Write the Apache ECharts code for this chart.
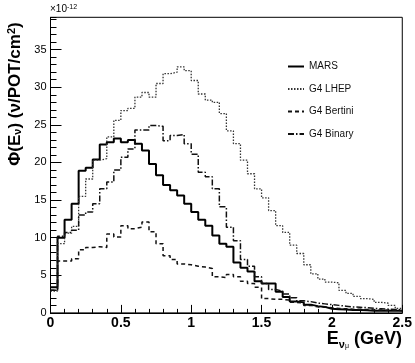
<!DOCTYPE html>
<html lang="en">
<head>
    <meta charset="utf-8">
    <title>Flux</title>
    <script src="https://cdn.jsdelivr.net/npm/echarts@6/dist/echarts.min.js"></script>
    <style>
        html, body { margin: 0; padding: 0; background: #fff; }
        #main { width: 415px; height: 363px; }
    </style>
</head>
<body>
<div id="main"></div>
<script type="text/javascript">
    // histogram: 50 bins of 0.05 GeV, values in units of 1e-12
    var binWidth = 0.05;
    var seriesNames = ['MARS', 'G4 LHEP', 'G4 Bertini', 'G4 Binary'];

    var mars = [3.4, 10.0, 12.4, 14.5, 18.9, 19.3, 20.4, 22.4, 22.7, 23.2,
        22.7, 23.0, 22.5, 21.6, 19.8, 18.3, 17.0, 16.3, 15.6, 14.5,
        13.4, 12.4, 11.6, 10.3, 9.2, 8.8, 6.7, 6.0, 5.5, 4.2,
        3.9, 3.9, 2.8, 2.1, 1.5, 1.4, 1.1, 0.9, 0.8, 0.55,
        0.5, 0.45, 0.4, 0.4, 0.35, 0.3, 0.3, 0.3, 0.3, 0.3];
    var lhep = [2.9, 9.2, 10.6, 11.5, 15.5, 17.8, 20.3, 20.5, 23.4, 25.6,
        26.9, 27.2, 28.7, 29.3, 28.7, 30.5, 31.8, 32.0, 32.7, 32.2,
        30.9, 29.1, 28.3, 28.0, 26.5, 24.2, 22.5, 20.3, 18.5, 16.5,
        15.3, 13.6, 11.6, 10.7, 9.0, 7.9, 6.4, 5.2, 4.5, 4.1,
        4.0, 3.0, 2.6, 2.2, 1.9, 1.8, 1.4, 1.3, 1.0, 0.6];
    var bertini = [3.0, 6.9, 6.9, 7.2, 8.4, 8.7, 8.8, 8.7, 10.5, 10.1,
        11.6, 11.2, 11.4, 12.1, 10.8, 9.2, 7.6, 7.1, 6.5, 6.4,
        6.2, 6.1, 5.9, 4.8, 4.7, 5.1, 4.8, 4.2, 3.9, 3.4,
        1.9, 1.8, 1.8, 1.7, 1.4, 1.3, 1.0, 0.8, 0.8, 0.7,
        0.6, 0.55, 0.5, 0.5, 0.45, 0.4, 0.4, 0.35, 0.35, 0.3];
    var binary = [3.0, 10.2, 10.7, 11.0, 13.0, 13.4, 14.5, 16.5, 17.4, 19.0,
        20.7, 21.8, 24.3, 24.3, 24.9, 24.8, 22.9, 23.6, 23.7, 22.5,
        21.1, 18.7, 18.1, 16.5, 14.1, 11.4, 9.6, 7.1, 6.2, 4.8,
        3.9, 3.1, 2.9, 2.5, 2.0, 1.6, 1.5, 1.3, 1.2, 1.1,
        1.0, 0.9, 0.8, 0.75, 0.7, 0.6, 0.55, 0.5, 0.45, 0.4];

    var xTicks = [0, 0.5, 1, 1.5, 2, 2.5];
    var yTicks = [0, 5, 10, 15, 20, 25, 30, 35];

    var font = 'Liberation Sans, Arial, sans-serif';

    // bin low edges + closing point so the last bin is drawn
    function steps(values) {
        var pts = values.map(function (v, i) {
            return [+(i * binWidth).toFixed(3), v];
        });
        pts.push([+(values.length * binWidth).toFixed(3), values[values.length - 1]]);
        return pts;
    }

    function hist(name, values, width, type, color) {
        return {
            name: name,
            type: 'line',
            step: 'end',
            symbol: 'none',
            xAxisIndex: 0,
            yAxisIndex: 0,
            lineStyle: { color: color, width: width, type: type },
            itemStyle: { color: color },
            data: steps(values)
        };
    }

    var myChart = echarts.init(document.getElementById('main'));

    var option = {
        animation: false,
        backgroundColor: '#fff',
        grid: {
            left: 50.5, right: 12.5, top: 17.3, bottom: 50.1,
            show: true, borderColor: '#000', borderWidth: 1,
            backgroundColor: 'transparent'
        },
        legend: {
            orient: 'vertical',
            left: 287, top: 60.5, padding: 0,
            itemWidth: 16, itemHeight: 12, itemGap: 10.5,
            data: seriesNames,
            itemStyle: { color: 'transparent', borderColor: 'transparent', borderWidth: 0, opacity: 0 },
            textStyle: { fontFamily: font, fontSize: 10, color: '#111', lineHeight: 12 }
        },
        xAxis: [{
            type: 'value',
            min: xTicks[0], max: xTicks[xTicks.length - 1], interval: 0.5,
            axisLine: { lineStyle: { color: '#000', width: 1 } },
            axisTick: { inside: true, length: 8, lineStyle: { color: '#000' } },
            minorTick: { show: true, splitNumber: 5, length: 4, lineStyle: { color: '#000' } },
            axisLabel: { margin: 3, fontFamily: font, fontSize: 14, fontWeight: 'bold', color: '#000' },
            splitLine: { show: false }
        }],
        yAxis: [{
            type: 'value',
            min: yTicks[0], max: 39.3, interval: 5,
            axisLine: { lineStyle: { color: '#000', width: 1 } },
            axisTick: { inside: true, length: 11, lineStyle: { color: '#000' } },
            axisLabel: { margin: 4, fontFamily: font, fontSize: 11, color: '#000', showMaxLabel: false },
            splitLine: { show: false }
        }, {
            type: 'value',
            min: yTicks[0], max: 39.3, interval: 1,
            position: 'left',
            axisLine: { show: false },
            axisTick: { inside: true, length: 6, lineStyle: { color: '#000' } },
            axisLabel: { show: false },
            splitLine: { show: false }
        }],
        graphic: [{
            type: 'text', left: 50, top: 4,
            style: {
                text: '×10{sup|-12}',
                font: '10px ' + font, fill: '#000',
                rich: { sup: { fontSize: 7, fontFamily: font, verticalAlign: 'top', fill: '#000' } }
            }
        }, {
            type: 'text', x: 15, y: 94, rotation: Math.PI / 2,
            style: {
                text: 'Φ(E{s|ν}) (ν/POT/cm{p|2})',
                font: 'bold 17px ' + font, fill: '#000',
                align: 'center', verticalAlign: 'middle',
                rich: {
                    s: { fontSize: 11, fontWeight: 'bold', fontFamily: font, verticalAlign: 'bottom', fill: '#000' },
                    p: { fontSize: 11, fontWeight: 'bold', fontFamily: font, verticalAlign: 'top', fill: '#000' }
                }
            }
        }, {
            type: 'text', x: 402, y: 339,
            style: {
                text: 'E{s|ν}{ss|μ} (GeV)',
                font: 'bold 18px ' + font, fill: '#000',
                align: 'right', verticalAlign: 'middle', lineHeight: 22,
                rich: {
                    s: { fontSize: 11, fontWeight: 'bold', fontFamily: font, verticalAlign: 'bottom', lineHeight: 20, fill: '#000' },
                    ss: { fontSize: 7, fontFamily: font, verticalAlign: 'bottom', lineHeight: 14, fill: '#000' }
                }
            }
        }],
        series: [
            hist(seriesNames[0], mars, 2, 'solid', '#000'),
            hist(seriesNames[1], lhep, 1.3, [1.5, 1.5], '#333'),
            hist(seriesNames[2], bertini, 1.5, [4, 3], '#111'),
            hist(seriesNames[3], binary, 1.5, [6, 2, 1.5, 2], '#111')
        ]
    };

    myChart.setOption(option);
</script>
</body>
</html>
